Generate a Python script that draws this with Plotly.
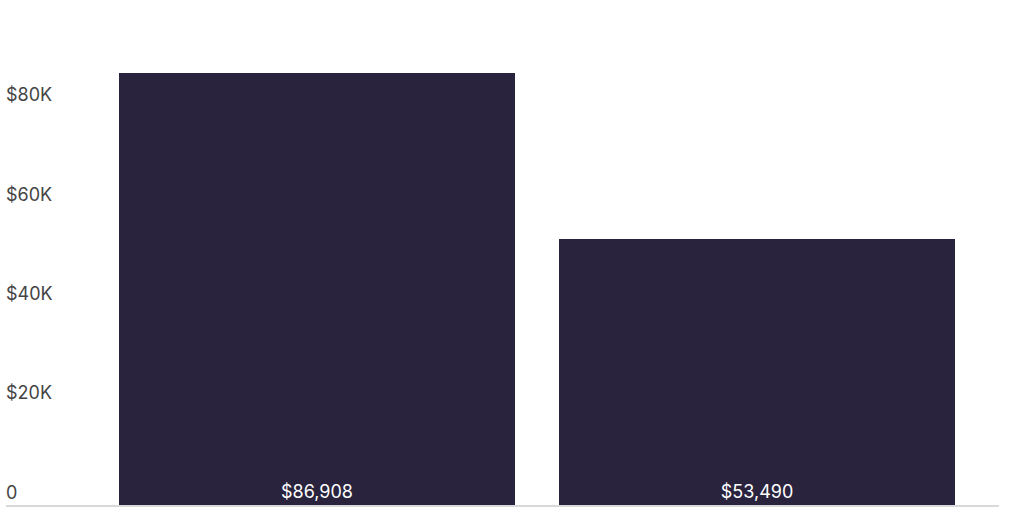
import plotly.graph_objects as go

# dados
categorias = ["Categoria A", "Categoria B"]
valores = [86908, 53490]
rotulos = ["$86,908", "$53,490"]
ticks_y = [0, 20000, 40000, 60000, 80000, 100000]
ticks_y_texto = ["0", "$20K", "$40K", "$60K", "$80K", "$100K"]

fig = go.Figure()
fig.add_trace(go.Bar(
    x=categorias,
    y=valores,
    text=rotulos,
    textposition="inside",
    insidetextanchor="start",
    textfont=dict(color="white", size=18),
    marker=dict(color="#29233d", line=dict(width=0)),
    width=0.9,
    hoverinfo="skip",
))

fig.update_layout(
    width=1024,
    height=512,
    margin=dict(l=6, r=25, t=8, b=7),
    plot_bgcolor="white",
    paper_bgcolor="white",
    font=dict(family="Inter, Liberation Sans, sans-serif", size=18, color="#333333"),
    showlegend=False,
    bargap=0,
)
fig.update_xaxes(
    range=[-0.707, 1.55],
    showticklabels=False,
    showgrid=False,
    showline=True,
    linecolor="#d9d9d9",
    linewidth=2,
    ticks="",
)
fig.update_yaxes(
    range=[0, 100000],
    tickvals=ticks_y,
    ticktext=ticks_y_texto,
    ticklabelposition="inside top",
    ticklabelstandoff=-3,
    showgrid=False,
    zeroline=False,
    showline=False,
    ticks="",
)

# tira a margem da página para o gráfico ocupar a janela toda
fig.write_html(
    "out.html",
    config={"displayModeBar": False},
    post_script="document.body.style.margin='0';",
)
